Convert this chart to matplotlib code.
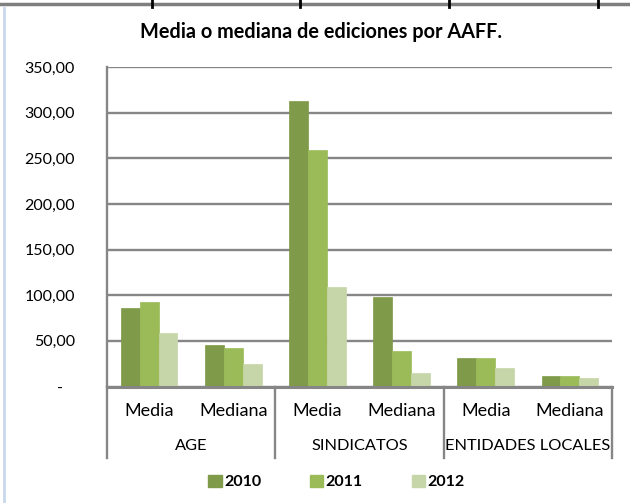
import matplotlib
matplotlib.use("Agg")
import matplotlib.pyplot as plt
from matplotlib.lines import Line2D
from matplotlib.patches import Patch
import matplotlib.transforms as mtransforms
import numpy as np

plt.rcParams['font.family'] = ['Lato', 'DejaVu Sans']

groups = ["AGE", "SINDICATOS", "ENTIDADES LOCALES"]
measures = ["Media", "Mediana"]
years = ["2010", "2011", "2012"]
values_2010 = [86.0, 45.3, 312.6, 98.0, 31.4, 11.4]
values_2011 = [92.4, 42.0, 259.0, 39.0, 31.2, 11.2]
values_2012 = [58.8, 25.0, 109.0, 14.6, 20.0, 8.8]
yticks = [0, 50, 100, 150, 200, 250, 300, 350]
ytick_labels = ["-   ", "50,00", "100,00", "150,00", "200,00", "250,00", "300,00", "350,00"]
colors = ["#7F9A48", "#9BBB59", "#C6D6A8"]

W, H = 630, 503
fig = plt.figure(figsize=(W / 100, H / 100), dpi=100)
left_px, right_px, top_px, zero_px = 107, 612, 67, 386.5
ax = fig.add_axes([left_px / W, 1 - zero_px / H, (right_px - left_px) / W, (zero_px - top_px) / H])
axes_h_px = zero_px - top_px

n = len(values_2010)
x = np.arange(n)
bw = 0.225
series = [values_2010, values_2011, values_2012]
for i, (vals, col, yr) in enumerate(zip(series, colors, years)):
    ax.bar(x + (i - 1) * bw, vals, width=bw, color=col, edgecolor=col, linewidth=0.5, zorder=3, label=yr)

grid_col = "#868686"
ax.set_xlim(-0.5, n - 0.5)
ax.set_ylim(0, 350)
ax.set_yticks(yticks)
ax.set_yticklabels(ytick_labels)
ax.yaxis.grid(True, color=grid_col, linewidth=1.7, zorder=0)
ax.set_axisbelow(True)
ax.tick_params(axis='y', length=0, pad=23, labelsize=11.5, labelcolor="#000000")
ax.tick_params(axis='x', length=0, labelbottom=False)
for s in ["top", "right"]:
    ax.spines[s].set_visible(False)
ax.spines["left"].set_color(grid_col)
ax.spines["left"].set_linewidth(1.7)
ax.spines["bottom"].set_color(grid_col)
ax.spines["bottom"].set_linewidth(2.2)
ax.spines["bottom"].set_zorder(4)

trans = mtransforms.blended_transform_factory(ax.transData, ax.transAxes)

# multi-level category axis: measure row, group row and separators
def frac(px):
    return -px / axes_h_px

for i in range(n):
    ax.text(x[i], frac(25), measures[i % 2], transform=trans, ha='center', va='center',
            fontsize=13, color="#000000")
for g, name in enumerate(groups):
    ax.text(2 * g + 0.5, frac(60), name, transform=trans, ha='center', va='center',
            fontsize=11.8, color="#000000")
for b in [-0.5, 1.5, 3.5, 5.5]:
    ax.add_line(Line2D([b, b], [0, frac(71)], transform=trans, color=grid_col,
                       linewidth=1.7, clip_on=False))

fig.text(0.509, 1 - 32 / H, "Media o mediana de ediciones por AAFF.", ha='center', va='center',
         fontsize=14.3, fontweight='bold', color="#000000")

handles = [Patch(facecolor=c, edgecolor=c) for c in colors]
fig.legend(handles, years, loc='center', bbox_to_anchor=(0.534, 1 - 482 / H), ncol=3,
           frameon=False, handlelength=0.85, handleheight=0.85, handletextpad=0.15,
           columnspacing=3.05, prop={'weight': 'bold', 'size': 11.5})

# frame decorations along the top and left edges
fig.add_artist(Line2D([0, 1], [1 - 4 / H, 1 - 4 / H], transform=fig.transFigure, color="#7F7F7F", linewidth=2.5))
for tx in [152, 300, 449, 598]:
    fig.add_artist(Line2D([tx / W, tx / W], [1 - 0 / H, 1 - 7 / H], transform=fig.transFigure,
                          color="#000000", linewidth=2))
fig.add_artist(Line2D([4 / W, 4 / W], [0, 1 - 8 / H], transform=fig.transFigure, color="#C9D7EA", linewidth=2))

fig.savefig("out.png", dpi=100)
